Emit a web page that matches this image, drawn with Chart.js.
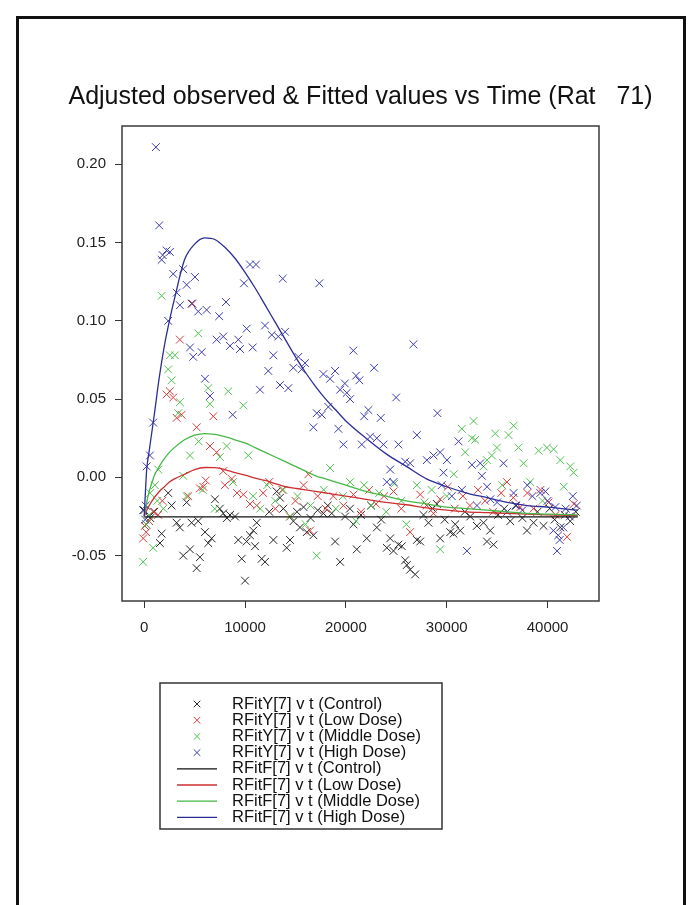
<!DOCTYPE html>
<html>
<head>
<meta charset="utf-8">
<title>Adjusted observed &amp; Fitted values vs Time</title>
<script src="https://cdn.jsdelivr.net/npm/chart.js@4.4.1/dist/chart.umd.min.js"></script>
<style>
  html, body { margin: 0; padding: 0; background: #fff; }
  #page { position: relative; width: 700px; height: 905px; overflow: hidden; }
  #frame { position: absolute; left: 16px; top: 16px; width: 664px; height: 900px; border: 3px solid #111; border-bottom: none; }
  #chart { position: absolute; left: 0; top: 0; }
</style>
</head>
<body>
<div id="page">
  <div id="frame"></div>
  <canvas id="chart" width="700" height="905"></canvas>
</div>
<script>
const FONT = '"Liberation Sans", Arial, Helvetica, sans-serif';

const timeTicks = [0, 10000, 20000, 30000, 40000];
const valueTicks = [-0.05, 0, 0.05, 0.1, 0.15, 0.2];
const groupNames = ['Control', 'Low Dose', 'Middle Dose', 'High Dose'];
const pointColors = ['#262626', '#dd3b3b', '#4fc24f', '#3b3bb0'];
const lineColors = ['#111111', '#cc2f2f', '#45b845', '#2d2d96'];

// adjusted observations, control group
const controlTime = [
  -100, 200, 600, 1000, 1560, 1730, 2380, 2720, 3220, 3540, 3870, 4210,
  4540, 4700, 5200, 5360, 5530, 6030, 6350, 6690, 7020, 7500, 7840, 8200,
  8510, 9000, 9330, 9670, 10000, 10160, 10490, 10820, 10990, 11160, 11650, 11980,
  12400, 12810, 13140, 13470, 13800, 14130, 14460, 14800, 15150, 15450, 15800, 16120,
  16500, 16780, 17200, 17770, 18200, 18600, 18930, 19430, 19920, 20400, 20750, 21080,
  21500, 22070, 22500, 23070, 23500, 24060, 24390, 24720, 25210, 25550, 25880, 26040,
  26370, 26870, 27040, 27370, 27700, 28190, 28600, 29020, 29350, 29800, 30350, 30670,
  30840, 31340, 31800, 32330, 32990, 33650, 33990, 34310, 34640, 35100, 35700, 36300,
  36900, 37500, 37960, 38610, 39000, 39600, 40200, 40700, 41260, 41700, 42250, 42800
];
const controlObs = [
  -0.021, -0.030, -0.026, -0.022, -0.042, -0.036, -0.010, -0.018, -0.029, -0.032, -0.050, -0.016,
  -0.046, -0.029, -0.058, -0.028, -0.051, -0.035, -0.042, -0.039, -0.014, -0.020, -0.023, -0.026,
  -0.024, -0.025, -0.040, -0.052, -0.066, -0.041, -0.037, -0.034, -0.044, -0.029, -0.052, -0.054,
  -0.022, -0.040, -0.009, -0.013, -0.020, -0.045, -0.040, -0.028, -0.022, -0.032, -0.019, -0.035,
  -0.026, -0.037, -0.021, -0.023, -0.018, -0.023, -0.041, -0.054, -0.025, -0.020, -0.030, -0.046,
  -0.024, -0.039, -0.018, -0.032, -0.027, -0.045, -0.039, -0.047, -0.043, -0.044, -0.053, -0.056,
  -0.059, -0.062, -0.040, -0.041, -0.024, -0.029, -0.020, -0.017, -0.039, -0.027, -0.035, -0.036,
  -0.030, -0.034, -0.022, -0.025, -0.031, -0.029, -0.041, -0.034, -0.043, -0.024, -0.020, -0.028,
  -0.018, -0.026, -0.034, -0.029, -0.022, -0.031, -0.020, -0.027, -0.032, -0.024, -0.028, -0.022
];

// low dose
const lowTime = [
  -100, 70, 200, 500, 900, 1390, 1800, 2220, 2550, 2880, 3220, 3540,
  3710, 4370, 4800, 5200, 5530, 5860, 6100, 6520, 6850, 7180, 7840, 8000,
  8680, 9200, 9830, 10490, 11160, 11800, 12400, 13000, 13700, 14460, 15000, 15800,
  16280, 16450, 17200, 18000, 18760, 19750, 20750, 21500, 22300, 23000, 23800, 24720,
  25500, 26370, 27370, 28000, 28690, 29350, 30100, 30800, 31600, 32300, 33100, 33800,
  34600, 35400, 35970, 36600, 37300, 38000, 38600, 39300, 40100, 40800, 41930, 42600
];
const lowObs = [
  -0.039, -0.031, -0.035, -0.028, -0.022, -0.024, -0.015, 0.053, 0.055, 0.051, 0.038, 0.088,
  0.040, -0.012, 0.111, 0.032, -0.007, -0.006, -0.002, 0.020, 0.039, 0.016, 0.004, -0.005,
  -0.001, -0.010, -0.011, -0.017, -0.018, -0.010, -0.003, -0.020, -0.008, -0.025, -0.015, -0.005,
  0.002, -0.034, -0.012, -0.020, -0.012, -0.018, -0.011, -0.022, -0.008, -0.017, -0.012, -0.009,
  -0.020, -0.035, -0.011, -0.018, -0.023, -0.014, -0.006, -0.020, -0.012, -0.018, -0.008, -0.015,
  -0.022, -0.010, -0.003, -0.013, -0.019, -0.010, -0.020, -0.008, -0.016, -0.024, -0.038, -0.017
];

// middle dose
const midTime = [
  -100, 200, 500, 600, 890, 1060, 1300, 1400, 1730, 1900, 2380, 2550,
  2720, 3050, 3370, 3540, 3870, 4200, 4540, 5360, 5400, 5800, 6350, 6520,
  7000, 7510, 8180, 8340, 8800, 9830, 10320, 10800, 11500, 12200, 13000, 13800,
  14500, 15200, 16000, 16500, 17110, 17800, 18430, 19000, 19700, 20420, 21000, 21800,
  22500, 23300, 24000, 24800, 25500, 26000, 27040, 27800, 28500, 29350, 30000, 30700,
  31500, 31830, 32500, 32660, 32830, 33650, 33990, 34480, 34810, 34980, 35500, 36130,
  36630, 37120, 37620, 38280, 39110, 39500, 39940, 40600, 41260, 41600, 42250, 42580
];
const midObs = [
  -0.054, -0.030, -0.024, -0.010, -0.045, -0.005, -0.015, 0.005, 0.116, -0.020, 0.069, 0.078,
  0.062, 0.078, 0.041, 0.048, 0.001, -0.012, 0.014, 0.092, 0.023, -0.008, 0.057, 0.047,
  -0.020, 0.013, 0.020, 0.055, -0.003, 0.046, 0.014, -0.012, -0.020, -0.005, -0.015, -0.008,
  -0.025, -0.012, -0.030, -0.018, -0.050, -0.008, 0.006, -0.020, -0.012, -0.003, -0.028, -0.005,
  -0.018, -0.010, -0.022, -0.004, -0.015, -0.030, -0.005, -0.016, -0.008, -0.046, -0.012, 0.002,
  0.031, 0.016, 0.025, 0.036, 0.024, 0.007, 0.011, 0.014, 0.028, 0.019, -0.005, 0.027,
  0.033, 0.019, 0.009, -0.003, 0.017, -0.015, 0.019, 0.018, 0.011, -0.006, 0.007, 0.003
];

// high dose
const highTime = [
  0, 100, 150, 240, 570, 890, 1160, 1490, 1730, 1830, 2220, 2380,
  2550, 2880, 3220, 3540, 3870, 4210, 4540, 4700, 4860, 5030, 5360, 5700,
  6030, 6190, 6520, 7180, 7440, 7840, 8110, 8510, 8770, 9330, 9500, 9900,
  10160, 10490, 10760, 11090, 11480, 11980, 12310, 12650, 12810, 13300, 13470, 13740,
  13970, 14290, 14790, 15290, 15620, 15950, 16780, 17110, 17370, 17610, 17770, 18260,
  18430, 18930, 19260, 19430, 19750, 19900, 20090, 20420, 20740, 21010, 21340, 21580,
  21810, 22230, 22400, 22800, 23070, 23460, 23720, 24060, 24390, 24720, 24980, 25210,
  25880, 26370, 26700, 27040, 28030, 28690, 29080, 29350, 29500, 29680, 30020, 30500,
  31170, 31500, 32000, 32500, 33000, 33320, 33490, 34000, 34330, 35000, 35630, 36000,
  36630, 36810, 37500, 38000, 38500, 39280, 39780, 40570, 40940, 41060, 41560, 42500,
  40000, 40770, 41200, 41800, 42200, 42900
];
const highObs = [
  -0.021, -0.027, -0.018, 0.007, 0.014, 0.035, 0.211, 0.161, 0.139, 0.142, 0.145, 0.100,
  0.144, 0.130, 0.118, 0.110, 0.133, 0.123, 0.083, 0.111, 0.077, 0.128, 0.106, 0.080,
  0.063, 0.107, 0.052, 0.088, 0.103, 0.090, 0.112, 0.084, 0.040, 0.088, 0.082, 0.124,
  0.095, 0.136, 0.083, 0.136, 0.056, 0.097, 0.068, 0.091, 0.078, 0.090, 0.059, 0.127,
  0.093, 0.057, 0.070, 0.077, 0.069, 0.073, 0.032, 0.041, 0.124, 0.040, 0.066, 0.045,
  0.063, 0.068, 0.031, 0.056, 0.021, 0.060, 0.054, 0.050, 0.081, 0.065, 0.062, 0.021,
  0.039, 0.043, 0.026, 0.070, 0.025, 0.038, 0.021, -0.003, 0.005, -0.003, 0.051, 0.021,
  0.010, 0.009, 0.085, 0.027, 0.011, 0.014, 0.041, 0.016, -0.005, 0.003, 0.011, -0.012,
  0.023, -0.008, -0.047, 0.008, -0.018, 0.009, 0.001, -0.006, -0.014, -0.016, 0.009, -0.022,
  -0.010, -0.018, -0.021, -0.005, -0.012, -0.010, -0.009, -0.034, -0.047, -0.037, -0.032, -0.012,
  -0.015, -0.019, -0.040, -0.020, -0.025, -0.018
];

// fitted curves
const controlFitTime = [0, 43000];
const controlFit = [-0.0253, -0.0253];
const fitTime = [
  0, 250, 500, 1000, 1500, 2000, 2500, 3000, 4000, 5000, 6000, 7000,
  8000, 9000, 10000, 11000, 12000, 13000, 14000, 15000, 16000, 17000, 18000, 19000,
  20000, 22000, 24000, 26000, 28000, 30000, 32000, 34000, 36000, 38000, 40000, 43000
];
const lowFit = [
  -0.025, -0.021, -0.018, -0.013, -0.009, -0.006, -0.003, -0.001, 0.002, 0.005, 0.0063, 0.0062,
  0.005, 0.003, 0.0015, -0.0005, -0.002, -0.004, -0.006, -0.007, -0.008, -0.009, -0.010, -0.011,
  -0.012, -0.014, -0.016, -0.0175, -0.0195, -0.021, -0.022, -0.0225, -0.023, -0.0235, -0.024, -0.0245
];
const midFit = [
  -0.025, -0.016, -0.009, 0.001, 0.007, 0.012, 0.016, 0.019, 0.024, 0.027, 0.028, 0.0275,
  0.026, 0.024, 0.022, 0.019, 0.016, 0.013, 0.010, 0.007, 0.004, 0.001, -0.001, -0.003,
  -0.005, -0.009, -0.012, -0.015, -0.017, -0.019, -0.020, -0.021, -0.022, -0.023, -0.0235, -0.024
];
const highFit = [
  -0.025, 0.005, 0.017, 0.040, 0.064, 0.084, 0.100, 0.114, 0.139, 0.149, 0.153, 0.152,
  0.147, 0.140, 0.131, 0.121, 0.110, 0.099, 0.088, 0.077, 0.067, 0.058, 0.050, 0.043,
  0.036, 0.025, 0.015, 0.007, -0.001, -0.006, -0.010, -0.013, -0.016, -0.018, -0.019, -0.021
];

const observed = [
  [controlTime, controlObs],
  [lowTime, lowObs],
  [midTime, midObs],
  [highTime, highObs],
];
const fitted = [
  [controlFitTime, controlFit],
  [fitTime, lowFit],
  [fitTime, midFit],
  [fitTime, highFit],
];

const toPoints = (xs, ys) => xs.map((x, i) => ({ x, y: ys[i] }));

// main title, centred over the plot region
const plotTitle = {
  id: 'plotTitle',
  afterDraw(chart, args, opts) {
    const { ctx, chartArea } = chart;
    ctx.save();
    ctx.font = `${opts.fontSize}px ${FONT}`;
    ctx.fillStyle = '#111';
    ctx.textAlign = 'center';
    ctx.textBaseline = 'middle';
    ctx.fillText(opts.text, (chartArea.left + chartArea.right) / 2, opts.y);
    ctx.restore();
  },
};

// plot frame drawn on all four sides of the chart area
const plotBox = {
  id: 'plotBox',
  afterDatasetsDraw(chart) {
    const { ctx, chartArea } = chart;
    ctx.save();
    ctx.strokeStyle = '#3a3a3a';
    ctx.lineWidth = 1.5;
    ctx.strokeRect(chartArea.left, chartArea.top, chartArea.right - chartArea.left, chartArea.bottom - chartArea.top);
    ctx.restore();
  },
};

// single-column legend with a border, one row per dataset
const boxedLegend = {
  id: 'boxedLegend',
  afterDraw(chart, args, opts) {
    const { ctx } = chart;
    ctx.save();
    ctx.strokeStyle = '#333';
    ctx.lineWidth = 1.5;
    ctx.strokeRect(opts.left, opts.top, opts.width, opts.height);
    ctx.font = `${opts.fontSize}px ${FONT}`;
    ctx.textBaseline = 'middle';
    chart.data.datasets.forEach((ds, i) => {
      const y = opts.top + opts.firstRow + i * opts.rowHeight;
      ctx.strokeStyle = ds.borderColor;
      ctx.beginPath();
      if (ds.type === 'line') {
        ctx.lineWidth = ds.borderWidth;
        ctx.moveTo(opts.symbolX - opts.lineHalf, y);
        ctx.lineTo(opts.symbolX + opts.lineHalf, y);
      } else {
        const h = opts.crossHalf;
        ctx.lineWidth = 1;
        ctx.moveTo(opts.symbolX - h, y - h);
        ctx.lineTo(opts.symbolX + h, y + h);
        ctx.moveTo(opts.symbolX - h, y + h);
        ctx.lineTo(opts.symbolX + h, y - h);
      }
      ctx.stroke();
      ctx.fillStyle = '#111';
      ctx.fillText(ds.label, opts.textX, y);
    });
    ctx.restore();
  },
};

const datasets = [
  ...observed.map(([t, y], i) => ({
    type: 'scatter',
    label: `RFitY[7] v t (${groupNames[i]})`,
    data: toPoints(t, y),
    pointStyle: 'crossRot',
    pointRadius: 5.5,
    pointHoverRadius: 5.5,
    pointBorderWidth: 1,
    borderColor: pointColors[i],
    backgroundColor: pointColors[i],
    showLine: false,
    order: 8 - i,
  })),
  ...fitted.map(([t, y], i) => ({
    type: 'line',
    label: `RFitF[7] v t (${groupNames[i]})`,
    data: toPoints(t, y),
    borderColor: lineColors[i],
    borderWidth: 1.3,
    pointRadius: 0,
    fill: false,
    cubicInterpolationMode: 'monotone',
    order: 4 - i,
  })),
];

const tickFont = { family: FONT, size: 15 };

new Chart(document.getElementById('chart'), {
  type: 'scatter',
  data: { datasets },
  plugins: [plotTitle, plotBox, boxedLegend],
  options: {
    responsive: false,
    animation: false,
    events: [],
    layout: { padding: { left: 60, right: 101, top: 126, bottom: 264 } },
    plugins: {
      legend: { display: false },
      tooltip: { enabled: false },
      title: { display: false },
      plotTitle: {
        text: 'Adjusted observed & Fitted values vs Time (Rat   71)',
        fontSize: 25,
        y: 97,
      },
      boxedLegend: {
        left: 160, top: 683, width: 282, height: 146,
        firstRow: 21, rowHeight: 16.2,
        symbolX: 197, lineHalf: 20, crossHalf: 3.3,
        textX: 232, fontSize: 16.5,
      },
    },
    scales: {
      x: {
        type: 'linear',
        min: -2200,
        max: 45100,
        afterBuildTicks: (scale) => { scale.ticks = timeTicks.map((v) => ({ value: v })); },
        afterFit: (scale) => { scale.height = 40; },
        border: { display: false },
        grid: { drawOnChartArea: false, drawTicks: true, tickLength: 7, tickColor: '#333', tickWidth: 1 },
        ticks: { padding: 11, color: '#222', font: tickFont, maxRotation: 0, autoSkip: false, callback: (v) => String(v) },
      },
      y: {
        type: 'linear',
        min: -0.079,
        max: 0.2245,
        afterBuildTicks: (scale) => { scale.ticks = valueTicks.map((v) => ({ value: v })); },
        afterFit: (scale) => { scale.width = 62; },
        border: { display: false },
        grid: { drawOnChartArea: false, drawTicks: true, tickLength: 7, tickColor: '#333', tickWidth: 1 },
        ticks: { padding: 9, color: '#222', font: tickFont, autoSkip: false, callback: (v) => v.toFixed(2) },
      },
    },
  },
});
</script>
</body>
</html>
